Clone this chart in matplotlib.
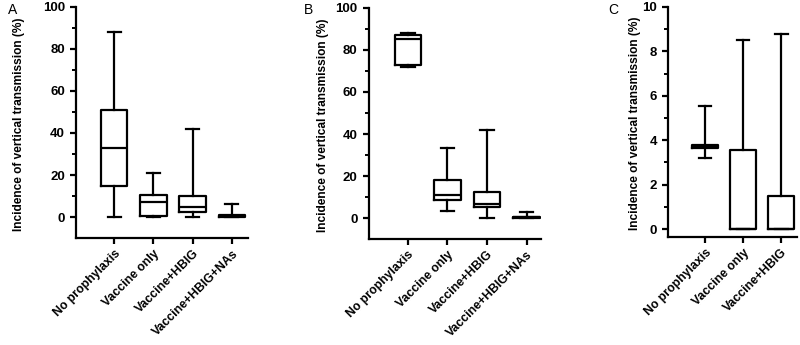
import matplotlib
matplotlib.use("Agg")
import matplotlib.pyplot as plt
from matplotlib.ticker import MultipleLocator

plt.rcParams['font.family'] = ['Liberation Sans', 'DejaVu Sans']

cats_4 = ["No prophylaxis", "Vaccine only", "Vaccine+HBIG", "Vaccine+HBIG+NAs"]
cats_3 = ["No prophylaxis", "Vaccine only", "Vaccine+HBIG"]

# Panel A: min, Q1, median, Q3, max
a_min = [0, 0, 0, 0]
a_q1 = [15, 0.5, 2.5, 0]
a_med = [33, 7, 5, 0.5]
a_q3 = [51, 10.5, 10, 1]
a_max = [88, 21, 42, 6]

# Panel B
b_min = [72, 3.5, 0, 0]
b_q1 = [73, 8.5, 5.5, 0]
b_med = [85, 11, 6.5, 0.3]
b_q3 = [87, 18, 12.5, 0.6]
b_max = [88, 33.5, 42, 3]

# Panel C
c_min = [3.2, 0, 0]
c_q1 = [3.65, 0, 0]
c_med = [3.72, 0, 0]
c_q3 = [3.8, 3.55, 1.5]
c_max = [5.55, 8.5, 8.8]

ylabel = "Incidence of vertical transmission (%)"

fig = plt.figure(figsize=(8, 3.45), dpi=100)

def panel(rect, cats, mn, q1, med, q3, mx, ylim, major, minor, xlim, letter, letter_xy, ylab_x):
    ax = fig.add_axes(rect)
    stats = []
    for i in range(len(cats)):
        stats.append(dict(whislo=mn[i], q1=q1[i], med=med[i], q3=q3[i], whishi=mx[i], fliers=[], label=cats[i]))
    lw = 1.6
    ax.bxp(stats, positions=list(range(len(cats))), widths=0.67, showfliers=False,
           boxprops=dict(color='black', linewidth=lw),
           whiskerprops=dict(color='black', linewidth=lw),
           capprops=dict(color='black', linewidth=lw),
           medianprops=dict(color='black', linewidth=lw),
           manage_ticks=False)
    ax.set_ylim(*ylim)
    ax.set_xlim(*xlim)
    ax.spines['top'].set_visible(False)
    ax.spines['right'].set_visible(False)
    ax.spines['left'].set_linewidth(1.6)
    ax.spines['bottom'].set_linewidth(1.6)
    ax.yaxis.set_major_locator(MultipleLocator(major))
    ax.set_yticks([t for t in ax.get_yticks() if 0 <= t <= ylim[1] + 1e-9])
    ax.set_yticks([t * minor for t in range(1, int(ylim[1] / minor) + 1)
                   if abs((t * minor) / major - round((t * minor) / major)) > 1e-6], minor=True)
    ax.set_xticks(list(range(len(cats))))
    ax.set_xticklabels(cats, rotation=45, ha='right', rotation_mode='anchor',
                       fontweight='bold', fontsize=8.8)
    ax.tick_params(axis='both', which='major', length=4.5, width=1.6, labelsize=9.5)
    ax.tick_params(axis='x', which='major', labelsize=8.8, pad=2.5)
    ax.tick_params(axis='y', which='minor', length=3, width=1.4)
    for lab in ax.get_yticklabels():
        lab.set_fontweight('bold')
    ax.set_ylabel(ylabel, fontweight='bold', fontsize=8.6)
    ax.yaxis.set_label_coords(ylab_x, rect[1] + rect[3] / 2 - 0.005, transform=fig.transFigure)
    fig.text(letter_xy[0], letter_xy[1], letter, fontsize=10, ha='left', va='top')
    return ax

panel([0.095, 0.310, 0.215, 0.670], cats_4, a_min, a_q1, a_med, a_q3, a_max,
      (-10, 100), 20, 10, (-0.97, 3.41), "A", (0.010, 0.990), 0.031)
panel([0.461, 0.307, 0.215, 0.670], cats_4, b_min, b_q1, b_med, b_q3, b_max,
      (-10, 100), 20, 10, (-0.99, 3.36), "B", (0.380, 0.990), 0.411)
panel([0.835, 0.313, 0.161, 0.667], cats_3, c_min, c_q1, c_med, c_q3, c_max,
      (-0.36, 10), 2, 1, (-0.97, 2.41), "C", (0.760, 0.990), 0.801)

fig.savefig("out.png", dpi=100)
